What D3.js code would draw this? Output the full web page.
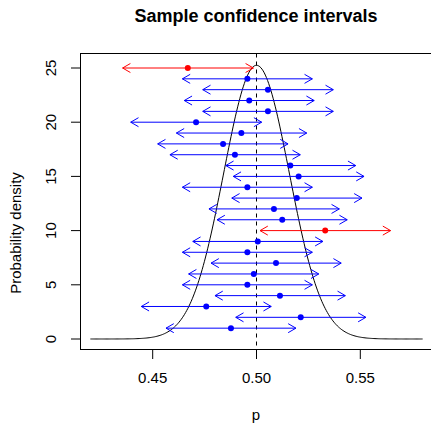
<!DOCTYPE html>
<html>
<head>
<meta charset="utf-8">
<script src="https://cdn.jsdelivr.net/npm/d3@7"></script>
<style>
  body { margin: 0; background: #fff; }
  svg { display: block; font-family: "Liberation Sans", Arial, sans-serif; }
</style>
</head>
<body>
<svg id="chart" width="431" height="424"></svg>
<script>
// interval rows, bottom (1) to top (25)
const rows = d3.range(1, 26);
const estimates = [0.4877, 0.5213, 0.4758, 0.5113, 0.4956, 0.4987, 0.5094, 0.4956, 0.5006, 0.5331,
    0.5124, 0.5084, 0.5194, 0.4956, 0.5203, 0.5163, 0.4896, 0.4839, 0.4927, 0.4709,
    0.5055, 0.4965, 0.5055, 0.4956, 0.4669];
const lowers = [0.4564, 0.4900, 0.4445, 0.4800, 0.4643, 0.4673, 0.4781, 0.4643, 0.4693, 0.5017,
    0.4810, 0.4771, 0.4881, 0.4643, 0.4888, 0.4852, 0.4583, 0.4524, 0.4614, 0.4394,
    0.4741, 0.4652, 0.4741, 0.4643, 0.4355];
const uppers = [0.5190, 0.5527, 0.5071, 0.5428, 0.5269, 0.5300, 0.5408, 0.5269, 0.5320, 0.5646,
    0.5437, 0.5399, 0.5508, 0.5269, 0.5518, 0.5478, 0.5211, 0.5152, 0.5242, 0.5025,
    0.5370, 0.5278, 0.5370, 0.5269, 0.4985];
const trueP = 0.5;
const samplingSd = 0.0158;
const curveRange = [0.42, 0.58];
const xTicks = [0.45, 0.50, 0.55];
const yTicks = [0, 5, 10, 15, 20, 25];

const intervals = rows.map((r, i) => ({
    row: r, est: estimates[i], lo: lowers[i], hi: uppers[i],
    misses: lowers[i] > trueP || uppers[i] < trueP
}));

const svg = d3.select("#chart");
const x = d3.scaleLinear().domain([0.45, 0.55]).range([152.7, 360.3]);
const y = d3.scaleLinear().domain([0, 25]).range([339, 68]);
const box = { left: 80.5, right: 432.5, top: 53.5, bottom: 349.5 };

// title
svg.append("text")
    .attr("x", 256).attr("y", 22)
    .attr("text-anchor", "middle")
    .style("font-size", "18px").style("font-weight", "bold")
    .text("Sample confidence intervals");

// normal curve of the sampling distribution
const dens = p => Math.exp(-0.5 * ((p - trueP) / samplingSd) ** 2) / (samplingSd * Math.sqrt(2 * Math.PI));
const curvePts = d3.range(0, 301).map(k => curveRange[0] + k * (curveRange[1] - curveRange[0]) / 300);
svg.append("path")
    .datum(curvePts)
    .attr("fill", "none").attr("stroke", "#000").attr("stroke-width", 1)
    .attr("d", d3.line().x(d => x(d)).y(d => y(dens(d))));

// true value
svg.append("line")
    .attr("x1", x(trueP)).attr("x2", x(trueP))
    .attr("y1", box.top).attr("y2", box.bottom)
    .attr("stroke", "#000").attr("stroke-dasharray", "4,4");

// intervals with open arrow heads
const headLen = 9, headAng = Math.PI / 6;
const hx = headLen * Math.cos(headAng), hy = headLen * Math.sin(headAng);
const g = svg.append("g").selectAll("g").data(intervals).join("g")
    .attr("stroke", d => d.misses ? "red" : "blue")
    .attr("fill", d => d.misses ? "red" : "blue");

g.append("path")
    .attr("fill", "none").attr("stroke-width", 1)
    .attr("d", d => {
        const x0 = x(d.lo), x1 = x(d.hi), yy = y(d.row);
        return `M${x0},${yy}L${x1},${yy}` +
            `M${x0 + hx},${yy - hy}L${x0},${yy}L${x0 + hx},${yy + hy}` +
            `M${x1 - hx},${yy - hy}L${x1},${yy}L${x1 - hx},${yy + hy}`;
    });

g.append("circle")
    .attr("stroke", "none")
    .attr("cx", d => x(d.est)).attr("cy", d => y(d.row)).attr("r", 3);

// frame
svg.append("rect")
    .attr("x", box.left).attr("y", box.top)
    .attr("width", box.right - box.left).attr("height", box.bottom - box.top)
    .attr("fill", "none").attr("stroke", "#000");

// x axis
svg.append("g").selectAll("line").data(xTicks).join("line")
    .attr("x1", d => x(d)).attr("x2", d => x(d))
    .attr("y1", box.bottom).attr("y2", box.bottom + 9.5)
    .attr("stroke", "#000");
svg.append("g").selectAll("text").data(xTicks).join("text")
    .attr("x", d => x(d)).attr("y", 383)
    .attr("text-anchor", "middle").style("font-size", "15px")
    .text(d => d3.format(".2f")(d));
svg.append("text")
    .attr("x", 256).attr("y", 419.5)
    .attr("text-anchor", "middle").style("font-size", "15px")
    .text("p");

// y axis
svg.append("g").selectAll("line").data(yTicks).join("line")
    .attr("x1", box.left - 9.5).attr("x2", box.left)
    .attr("y1", d => y(d)).attr("y2", d => y(d))
    .attr("stroke", "#000");
svg.append("g").selectAll("text").data(yTicks).join("text")
    .attr("transform", d => `translate(56,${y(d)}) rotate(-90)`)
    .attr("text-anchor", "middle").style("font-size", "15px")
    .text(d => d);
svg.append("text")
    .attr("transform", "translate(21,233) rotate(-90)")
    .attr("text-anchor", "middle").style("font-size", "15px")
    .text("Probability density");
</script>
</body>
</html>
